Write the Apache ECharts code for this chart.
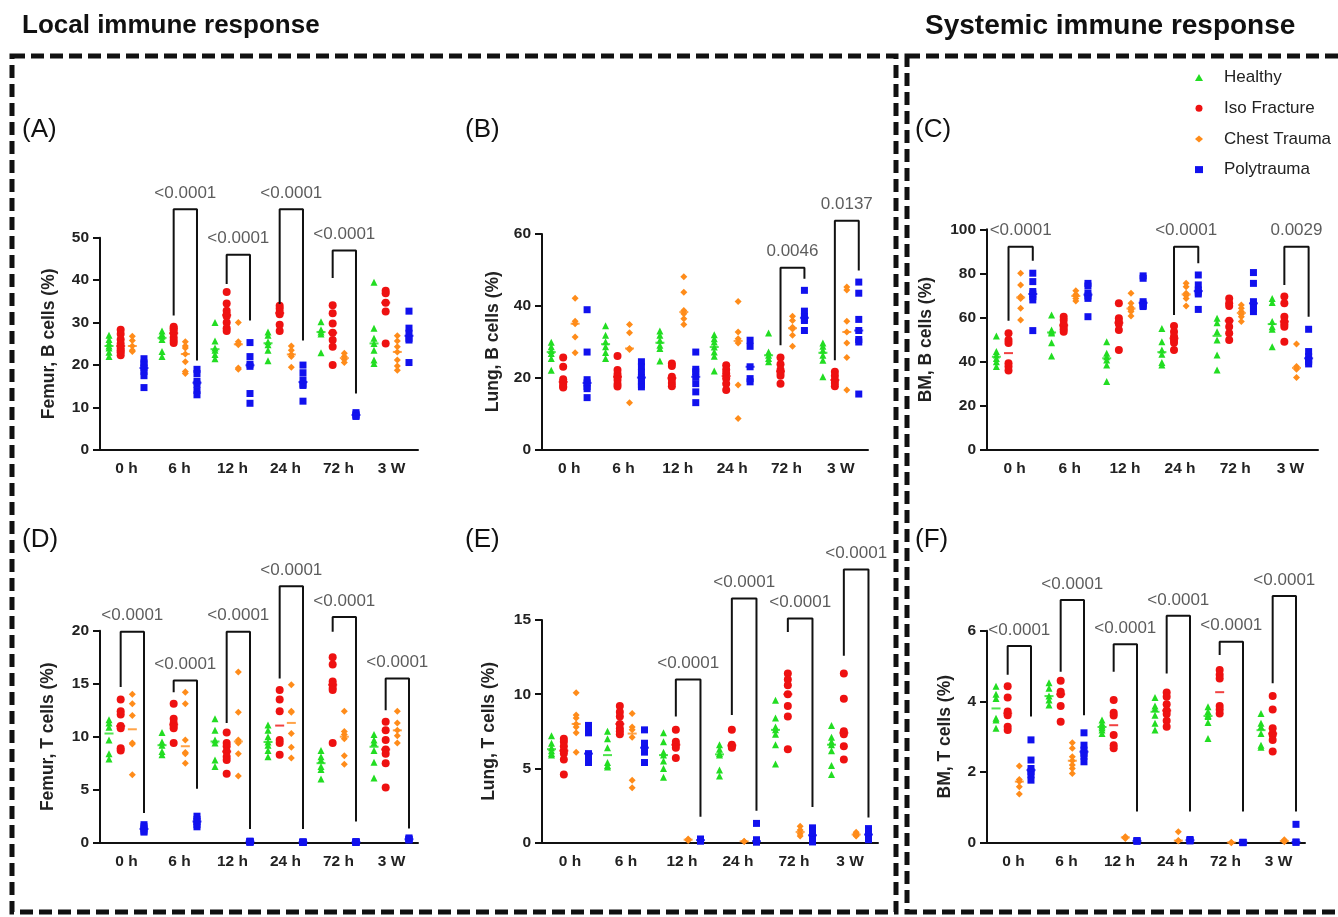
<!DOCTYPE html>
<html><head><meta charset="utf-8">
<script src="https://cdn.jsdelivr.net/npm/echarts@6/dist/echarts.min.js"></script>
<style>html,body{margin:0;padding:0;background:#fff}#c{width:1338px;height:917px}</style>
</head><body><div id="c"></div>
<script>
// ---------- DATA ----------
const categories = ['0 h', '6 h', '12 h', '24 h', '72 h', '3 W'];
const groups = ['Healthy', 'Iso Fracture', 'Chest Trauma', 'Polytrauma'];

// (A) Femur, B cells (%)
const femurB_Healthy = [[27.0,26.0,25.2,24.5,24.0,23.0,22.0],[28.0,27.3,26.8,26.0,23.2,22.0],[30.0,25.7,24.0,23.5,22.5,21.5],[27.8,27.0,25.5,24.8,23.5,21.0],[30.2,28.3,27.8,27.3,22.9],[39.5,28.7,26.3,25.1,23.5,21.2,20.4]];
const femurB_Iso = [[28.3,27.3,26.0,25.0,24.0,23.5,23.0,22.3],[29.0,28.7,28.2,27.5,26.5,25.8,25.2],[37.2,34.5,32.8,32.0,31.5,30.0,28.7,28.0],[34.0,33.3,32.5,32.0,29.5,28.0],[34.1,32.2,29.8,27.6,25.9,24.3,20.0],[37.5,36.9,34.7,32.6,25.1]];
const femurB_Chest = [[26.8,25.8,24.5,23.5,23.2],[25.5,24.5,24.0,22.6,20.8,18.5,18.0],[30.0,25.5,25.0,24.8,19.3,19.0],[24.5,23.5,22.5,22.0,19.5],[22.8,22.0,21.3,20.6],[26.9,25.7,24.3,23.1,21.2,19.8,18.8]];
const femurB_Poly = [[21.5,20.5,20.0,19.3,18.5,17.5,14.7],[19.0,18.0,16.2,15.5,14.0,13.0],[25.3,22.0,20.2,19.7,13.3,11.0],[20.0,18.2,16.5,15.5,15.2,11.5],[8.8,8.4,8.1,7.9],[32.7,28.7,27.5,26.3,25.9,20.6]];
// bracket: [category, fromGroup, toGroup, top, leftEnd, rightEnd, p-value]
const femurB_Brackets = [[1,1,3,56.7,31.7,21.1,'<0.0001'],[2,1,3,46.0,39.1,30.5,'<0.0001'],[3,1,3,56.7,34.4,25.8,'<0.0001'],[4,1,3,47.0,40.5,13.3,'<0.0001']];

// (B) Lung, B cells (%)
const lungB_Healthy = [[29.8,28.6,27.5,26.7,25.3,22.0],[34.4,31.8,30.0,28.6,27.0,25.3],[33.0,31.8,30.4,29.0,28.1,24.6],[31.9,30.8,29.9,28.5,27.1,25.9,21.8],[32.4,27.1,26.2,25.3,24.4],[29.6,28.7,27.6,26.2,24.8,20.2]];
const lungB_Iso = [[25.6,23.0,19.5,18.8,18.2,17.5,17.2],[26.0,22.1,21.0,20.2,19.3,18.2,17.5],[23.9,23.2,20.2,19.5,18.5,17.6],[23.4,22.2,21.1,19.7,18.3,16.5],[25.6,23.7,22.2,21.3,20.5,18.3],[21.6,20.5,19.3,18.5,17.6]];
const lungB_Chest = [[42.1,35.7,35.0,31.3,26.9],[34.8,32.5,28.1,27.8,13.0],[48.1,43.8,38.7,37.8,36.4,34.8],[41.2,32.7,30.8,29.6,17.9,8.6],[37.1,35.9,34.0,33.5,31.8,28.7],[45.2,44.4,35.7,32.7,29.6,25.6,16.5]];
const lungB_Poly = [[38.9,27.1,19.4,18.5,17.5,16.9,14.4],[24.4,23.0,21.5,20.0,19.0,18.0,17.4],[27.1,22.3,21.6,20.2,18.3,16.0,13.0],[30.4,28.7,23.0,19.7,18.8],[44.3,38.5,37.0,36.3,35.9,33.1],[46.6,43.5,36.2,33.1,30.6,29.9,15.4]];
const lungB_Brackets = [[4,1,3,50.6,29.0,47.5,'0.0046'],[5,1,3,63.7,24.8,49.8,'0.0137']];

// (C) BM, B cells (%)
const bmB_Healthy = [[51.7,44.6,43.0,41.5,40.0,37.8],[61.2,54.4,53.5,53.0,48.6,42.6],[49.1,43.8,42.3,40.8,38.5,31.0],[55.1,49.1,45.3,43.4,39.6,38.5],[59.7,57.7,53.6,49.8,43.1,36.3],[68.7,66.8,58.2,55.9,54.7,46.8]];
const bmB_Iso = [[52.9,49.8,48.5,39.3,37.8,36.0],[60.4,58.9,57.0,55.9,54.7,53.6],[66.5,59.7,58.2,57.1,54.4,45.3],[56.2,53.6,51.4,49.8,48.6,45.3],[68.7,66.5,65.3,58.6,55.9,52.9,49.8],[69.5,66.5,60.4,58.2,57.0,55.9,49.1]];
const bmB_Chest = [[80.1,74.8,69.5,68.7,64.2,58.9],[72.2,70.5,69.8,68.7,67.5],[71.0,66.5,64.7,63.5,62.7,60.7],[75.5,74.0,71.0,70.0,68.7,65.3],[65.7,64.2,62.7,61.5,60.4,58.2],[48.0,37.8,36.6,32.9]];
const bmB_Poly = [[80.1,76.3,71.8,70.7,69.5,68.0,54.1],[75.5,74.3,71.0,69.8,68.7,60.4],[78.9,77.8,67.2,66.2,65.5,65.0],[79.3,74.8,72.5,71.5,70.7,63.7],[80.4,75.5,67.2,65.7,64.2,62.7],[54.7,44.6,42.3,40.8,40.0,39.0]];
const bmB_Brackets = [[0,1,3,92.1,58.6,85.8,'<0.0001'],[3,1,3,92.1,61.2,84.6,'<0.0001'],[5,1,3,92.1,74.8,60.4,'0.0029']];

// (D) Femur, T cells (%)
const femurT_Healthy = [[11.6,11.3,10.9,9.7,8.4,7.9],[10.4,9.5,9.2,8.6,8.3],[11.7,10.6,9.7,9.4,7.8,7.2],[11.1,10.6,10.0,9.5,9.2,8.7,8.1],[8.7,8.1,7.8,7.2,6.9,6.0],[10.2,9.7,9.4,8.7,7.6,6.1]];
const femurT_Iso = [[13.5,12.4,12.1,11.0,10.8,8.9,8.7],[13.1,11.7,11.3,11.0,10.8,9.4],[10.4,9.4,9.1,8.6,8.1,7.8,6.5],[14.4,13.5,12.4,9.7,9.4,8.3],[17.5,16.8,15.2,14.9,14.6,14.4,9.4],[11.4,10.6,9.7,8.8,8.4,7.5,5.2]];
const femurT_Chest = [[14.0,13.1,12.0,9.4,9.3,6.4],[14.2,13.1,9.7,8.5,8.4,7.5],[16.1,12.3,9.7,9.4,8.4,6.3],[14.9,12.4,12.3,10.3,9.0,8.0],[12.4,10.5,10.2,9.8,8.2,7.4],[12.4,11.3,10.6,10.1,9.4]];
const femurT_Poly = [[1.7,1.5,1.3,1.1,1.0],[2.5,2.2,2.0,1.7,1.5],[0.15,0.1,0.1,0.05,0.05],[0.08,0.05,0.05,0.03,0.02],[0.1,0.06,0.05,0.04,0.03],[0.45,0.35,0.3,0.25]];
const femurT_Brackets = [[0,1,3,19.9,14.7,2.8,'<0.0001'],[1,1,3,15.3,14.2,5.1,'<0.0001'],[2,1,3,19.9,11.3,1.3,'<0.0001'],[3,1,3,24.2,15.5,1.3,'<0.0001'],[4,1,3,21.3,19.9,2.0,'<0.0001'],[5,1,3,15.5,12.5,1.35,'<0.0001']];

// (E) Lung, T cells (%)
const lungT_Healthy = [[7.2,6.7,6.4,6.2,6.0,5.9],[7.5,7.0,6.4,5.4,5.2,5.1],[7.4,6.8,6.1,5.9,5.5,5.0,4.4],[6.6,6.3,6.0,5.9,4.9,4.5],[9.6,8.4,7.8,7.6,7.3,6.6,5.3],[7.9,7.1,6.8,6.6,6.2,5.2,4.6]];
const lungT_Iso = [[7.0,6.8,6.5,6.2,6.0,5.6,4.6],[9.2,8.8,8.5,8.0,7.7,7.5,7.3],[7.6,6.8,6.6,6.4,5.7],[7.6,6.6,6.5,6.4],[11.4,11.0,10.6,10.0,9.2,8.5,6.3],[11.4,9.7,7.5,7.3,6.5,5.6]];
const lungT_Chest = [[10.1,8.6,8.4,8.0,7.8,7.4,6.1],[8.7,7.8,7.6,7.1,4.2,3.7],[0.25,0.2,0.15],[0.1,0.08],[1.1,0.85,0.6,0.45],[0.7,0.6,0.5,0.45]];
const lungT_Poly = [[7.9,7.6,7.4,6.0,5.8,5.6,5.4],[7.6,6.7,6.5,6.3,6.1,5.4],[0.25,0.2,0.15,0.1],[1.3,0.2,0.1,0.05,0.05],[1.0,0.8,0.6,0.4,0.2,0.05],[0.95,0.75,0.55,0.35,0.2]];
const lungT_Brackets = [[2,1,3,11.0,8.5,1.75,'<0.0001'],[3,1,3,16.45,8.6,2.15,'<0.0001'],[4,1,3,15.1,14.2,2.4,'<0.0001'],[5,1,3,18.4,12.6,1.7,'<0.0001']];

// (F) BM, T cells (%)
const bmT_Healthy = [[4.43,4.2,4.08,3.52,3.47,3.24],[4.53,4.37,4.15,4.04,3.90],[3.47,3.38,3.3,3.25,3.19,3.09],[4.11,3.87,3.8,3.61,3.38,3.19],[3.85,3.71,3.6,3.57,3.40,2.95],[3.66,3.38,3.28,3.09,2.76,2.7]];
const bmT_Iso = [[4.43,4.11,3.71,3.61,3.28,3.19],[4.58,4.27,4.2,3.87,3.42],[4.04,3.68,3.6,3.05,2.76,2.67],[4.25,4.13,3.92,3.74,3.64,3.45,3.28],[4.89,4.75,4.65,3.87,3.77,3.66],[4.15,3.77,3.24,3.09,3.05,2.91,2.58]];
const bmT_Chest = [[2.17,1.79,1.73,1.58,1.38],[2.83,2.67,2.43,2.32,2.2,2.1,1.96],[0.17,0.15,0.12],[0.31,0.06,0.05],[0.01,0.0],[0.08,0.05,0.03]];
const bmT_Poly = [[2.91,2.34,2.1,2.01,1.92,1.77],[3.11,2.76,2.62,2.53,2.45,2.29],[0.06,0.05,0.04],[0.09,0.07,0.05],[0.01,0.01,0.0],[0.52,0.02,0.01]];
const bmT_Brackets = [[0,1,3,5.57,4.75,3.57,'<0.0001'],[1,1,3,6.87,4.84,3.61,'<0.0001'],[2,1,3,5.62,4.84,0.88,'<0.0001'],[3,1,3,6.42,4.79,0.88,'<0.0001'],[4,1,3,5.69,5.31,0.88,'<0.0001'],[5,1,3,6.98,4.51,0.88,'<0.0001']];

// ---------- STYLE / LAYOUT ----------
const FF = '"Liberation Sans", Arial, Helvetica, sans-serif';
const colors = ['#22dd22', '#ee1111', '#ff8c1a', '#1111ee'];
const symbols = ['triangle', 'circle', 'diamond', 'rect'];
const sizes = [7, 8, 7, 7];
const offsets = [-0.33, -0.11, 0.11, 0.33];

const panels = [
  {label:'(A)', lx:22, ly:130, yName:'Femur, B cells (%)', yMax:50, yInt:10, nameGap:42, grid:{left:100, top:237.7, width:318, height:212.3}, data:[femurB_Healthy,femurB_Iso,femurB_Chest,femurB_Poly], br:femurB_Brackets},
  {label:'(B)', lx:465, ly:130, yName:'Lung, B cells (%)', yMax:60, yInt:20, nameGap:40, grid:{left:542, top:234, width:326, height:215.3}, data:[lungB_Healthy,lungB_Iso,lungB_Chest,lungB_Poly], br:lungB_Brackets},
  {label:'(C)', lx:915, ly:130, yName:'BM, B cells (%)', yMax:100, yInt:20, nameGap:52, grid:{left:987, top:229.3, width:331, height:220.7}, data:[bmB_Healthy,bmB_Iso,bmB_Chest,bmB_Poly], br:bmB_Brackets},
  {label:'(D)', lx:22, ly:540, yName:'Femur, T cells (%)', yMax:20, yInt:5, nameGap:43, grid:{left:100, top:630.7, width:318, height:212}, data:[femurT_Healthy,femurT_Iso,femurT_Chest,femurT_Poly], br:femurT_Brackets},
  {label:'(E)', lx:465, ly:540, yName:'Lung, T cells (%)', yMax:15, yInt:5, nameGap:44, grid:{left:542, top:620, width:336, height:222.7}, data:[lungT_Healthy,lungT_Iso,lungT_Chest,lungT_Poly], br:lungT_Brackets},
  {label:'(F)', lx:915, ly:540, yName:'BM, T cells (%)', yMax:6, yInt:2, nameGap:33, grid:{left:987, top:630.7, width:318, height:212}, data:[bmT_Healthy,bmT_Iso,bmT_Chest,bmT_Poly], br:bmT_Brackets}
];

function median(a) {
  const s = a.slice().sort((x, y) => x - y);
  const n = s.length;
  return n % 2 ? s[(n - 1) / 2] : (s[n / 2 - 1] + s[n / 2]) / 2;
}

const grids = [], xAxes = [], yAxes = [], series = [];
const axisCol = '#111';
panels.forEach((p, i) => {
  grids.push(Object.assign({containLabel:false, outerBoundsMode:'none'}, p.grid));
  xAxes.push({
    type:'category', gridIndex:i, data:categories, boundaryGap:true,
    axisLine:{onZero:false, lineStyle:{color:axisCol, width:2}},
    axisTick:{alignWithLabel:true, length:6, lineStyle:{color:axisCol, width:2}},
    axisLabel:{interval:0, color:'#222', fontWeight:'bold', fontSize:15.5, fontFamily:FF, margin:11},
    splitLine:{show:false}
  });
  xAxes.push({type:'value', gridIndex:i, min:-0.5, max:5.5, show:false, axisLine:{onZero:false}, splitLine:{show:false}});
  yAxes.push({
    type:'value', gridIndex:i, min:0, max:p.yMax, interval:p.yInt,
    name:p.yName, nameLocation:'middle', nameGap:p.nameGap, nameRotate:90,
    nameTextStyle:{color:'#222', fontWeight:'bold', fontSize:17.5, fontFamily:FF},
    axisLine:{show:true, onZero:false, lineStyle:{color:axisCol, width:2}},
    axisTick:{show:true, length:7, lineStyle:{color:axisCol, width:2}},
    axisLabel:{color:'#222', fontWeight:'bold', fontSize:15.5, fontFamily:FF, margin:11},
    splitLine:{show:false}
  });
  const xi = 2 * i + 1;
  groups.forEach((g, gi) => {
    const pts = [];
    p.data[gi].forEach((vals, ci) => vals.forEach(v => pts.push([ci + offsets[gi], v])));
    series.push({type:'scatter', name:g, xAxisIndex:xi, yAxisIndex:i, data:pts,
      symbol:symbols[gi], symbolSize:sizes[gi], itemStyle:{color:colors[gi], opacity:1},
      z:3, silent:true, animation:false});
    const meds = p.data[gi].map((vals, ci) => [ci + offsets[gi], median(vals)]);
    series.push({type:'scatter', name:g, xAxisIndex:xi, yAxisIndex:i, data:meds,
      symbol:'rect', symbolSize:[9, 2], itemStyle:{color:colors[gi]},
      z:4, silent:true, animation:false});
  });
  const labelPts = [];
  p.br.forEach(b => {
    const x1 = b[0] + offsets[b[1]], x2 = b[0] + offsets[b[2]];
    series.push({type:'line', xAxisIndex:xi, yAxisIndex:i,
      data:[[x1, b[4]], [x1, b[3]], [x2, b[3]], [x2, b[5]]],
      symbol:'none', showSymbol:false, clip:false, silent:true, animation:false, z:5,
      lineStyle:{color:'#111', width:2}});
    labelPts.push({value:[(x1 + x2) / 2, b[3]], label:{formatter:b[6]}});
  });
  series.push({type:'scatter', xAxisIndex:xi, yAxisIndex:i, data:labelPts, clip:false,
    symbolSize:1, itemStyle:{color:'rgba(0,0,0,0)'}, silent:true, animation:false, z:6,
    label:{show:true, position:'top', distance:7, color:'#333', fontSize:17, fontFamily:FF}});
});

const graphics = [
  {type:'text', left:22, top:13, style:{text:'Local immune response', font:'bold 26px ' + FF, fill:'#111'}},
  {type:'text', left:925, top:12, style:{text:'Systemic immune response', font:'bold 28px ' + FF, fill:'#111'}},
  {type:'rect', shape:{x:12, y:56, width:884, height:856}, style:{fill:'none', stroke:'#111', lineWidth:5, lineDash:[13, 6]}, silent:true},
  {type:'rect', shape:{x:907, y:56, width:470, height:856}, style:{fill:'none', stroke:'#111', lineWidth:5, lineDash:[13, 6]}, silent:true}
];
panels.forEach(p => graphics.push({type:'text', left:p.lx, top:p.ly - 13, style:{text:p.label, font:'26px ' + FF, fill:'#111'}}));

const chart = echarts.init(document.getElementById('c'), null, {renderer:'canvas'});
chart.setOption({
  animation:false,
  backgroundColor:'#fff',
  grid:grids, xAxis:xAxes, yAxis:yAxes, series:series, graphic:graphics,
  legend:{
    orient:'vertical', left:1190, top:64, itemWidth:8, itemHeight:7, itemGap:13.7,
    selectedMode:false,
    textStyle:{fontSize:17, lineHeight:17, color:'#222', fontFamily:FF, padding:[0, 0, 0, 16]},
    data:[{name:'Healthy', icon:'triangle'}, {name:'Iso Fracture', icon:'circle'}, {name:'Chest Trauma', icon:'diamond'}, {name:'Polytrauma', icon:'rect'}]
  }
});
</script></body></html>
